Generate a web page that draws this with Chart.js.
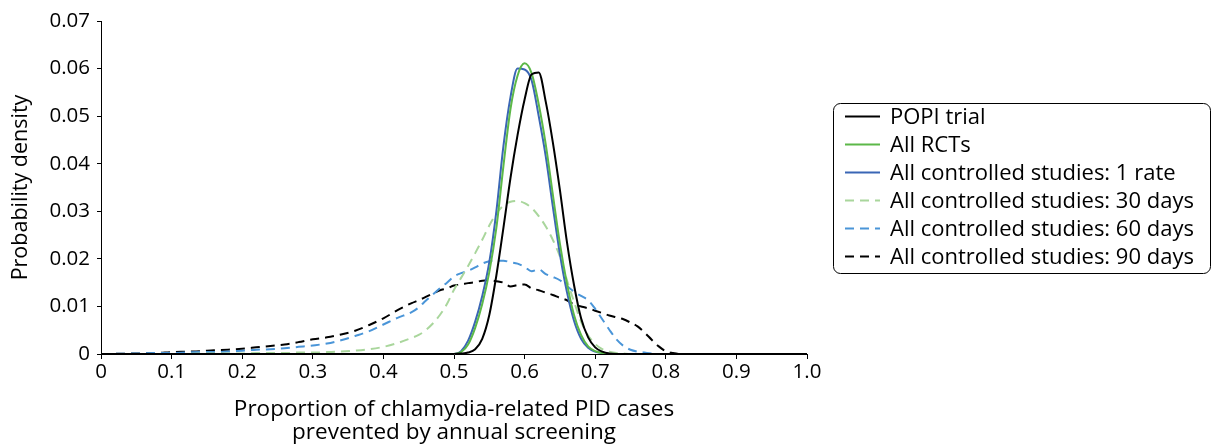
<!DOCTYPE html>
<html>
<head>
<meta charset="utf-8">
<script src="https://cdn.jsdelivr.net/npm/chart.js@4.4.1/dist/chart.umd.min.js"></script>
<style>
  html, body { margin: 0; padding: 0; background: #fff; }
  #wrap { width: 1213px; height: 446px; }
</style>
</head>
<body>
<div id="wrap"><canvas id="pdf" width="1213" height="446"></canvas></div>
<script>
// proportion of PID cases prevented (x) - shared grid for every curve
const xs = [0, 0.05, 0.08, 0.10, 0.12, 0.14, 0.16, 0.18, 0.20, 0.22, 0.24, 0.26, 0.28, 0.30, 0.32, 0.34, 0.36, 0.38, 0.40, 0.42, 0.44,
  0.45, 0.46, 0.47, 0.48, 0.49, 0.50, 0.51, 0.52, 0.53, 0.54, 0.55, 0.56, 0.57, 0.58, 0.59, 0.60, 0.61, 0.62, 0.63, 0.64,
  0.65, 0.66, 0.67, 0.68, 0.69, 0.70, 0.71, 0.72, 0.73, 0.74, 0.75, 0.76, 0.77, 0.78, 0.79, 0.80, 0.81, 0.82, 0.85, 0.90, 0.95, 1.00]

// probability density
const popiTrial = [0, 0, 0, 0, 0, 0, 0, 0, 0, 0, 0, 0, 0, 0, 0, 0, 0, 0, 0, 0, 0,
  0, 0, 0, 0, 0, 0, 0.0001, 0.0003, 0.0010, 0.0032, 0.0082, 0.0165, 0.0265, 0.0370, 0.0460, 0.0535, 0.0588, 0.0592, 0.0530, 0.0445,
  0.0345, 0.0235, 0.0145, 0.0075, 0.0035, 0.0014, 0.0005, 0.0001, 0, 0, 0, 0, 0, 0, 0, 0, 0, 0, 0, 0, 0, 0]

const allRcts = [0, 0, 0, 0, 0, 0, 0, 0, 0, 0, 0, 0, 0, 0, 0, 0, 0, 0, 0, 0, 0,
  0, 0, 0, 0, 0, 0, 0.0004, 0.0020, 0.0055, 0.0105, 0.0172, 0.0265, 0.0395, 0.0515, 0.0585, 0.0611, 0.0590, 0.0525, 0.0440, 0.0335,
  0.0232, 0.0148, 0.0082, 0.0040, 0.0016, 0.0006, 0.0002, 0, 0, 0, 0, 0, 0, 0, 0, 0, 0, 0, 0, 0, 0, 0]

const oneRate = [0, 0, 0, 0, 0, 0, 0, 0, 0, 0, 0, 0, 0, 0, 0, 0, 0, 0, 0, 0, 0,
  0, 0, 0, 0, 0, 0, 0.0006, 0.0028, 0.0068, 0.0122, 0.0193, 0.0300, 0.0437, 0.0540, 0.0600, 0.0598, 0.0575, 0.0500, 0.0415, 0.0310,
  0.0210, 0.0130, 0.0070, 0.0032, 0.0013, 0.0005, 0.0002, 0, 0, 0, 0, 0, 0, 0, 0, 0, 0, 0, 0, 0, 0, 0]

const days30 = [0, 0, 0, 0, 0, 0.0001, 0.0001, 0.0001, 0.0001, 0.0002, 0.0002, 0.0002, 0.0003, 0.0003, 0.0004, 0.0005, 0.0007, 0.0010, 0.0015, 0.0023, 0.0034,
  0.0040, 0.0050, 0.0064, 0.0082, 0.0105, 0.0135, 0.0160, 0.0185, 0.0212, 0.0240, 0.0270, 0.0295, 0.0312, 0.0320, 0.0322, 0.0317, 0.0307, 0.0290, 0.0268, 0.0240,
  0.0205, 0.0155, 0.0110, 0.0068, 0.0039, 0.0021, 0.0010, 0.0005, 0.0002, 0.0001, 0, 0, 0, 0, 0, 0, 0, 0, 0, 0, 0, 0]

const days60 = [0, 0.0001, 0.0002, 0.0002, 0.0003, 0.0004, 0.0004, 0.0005, 0.0007, 0.0009, 0.0010, 0.0012, 0.0015, 0.0018, 0.0022, 0.0029, 0.0038, 0.0048, 0.0062, 0.0076, 0.0088,
  0.0098, 0.0112, 0.0125, 0.0138, 0.0150, 0.0163, 0.0170, 0.0175, 0.0182, 0.0190, 0.0195, 0.0196, 0.0196, 0.0193, 0.0190, 0.0183, 0.0174, 0.0178, 0.0168, 0.0162,
  0.0155, 0.0143, 0.0131, 0.0122, 0.0113, 0.0095, 0.0073, 0.0051, 0.0031, 0.0017, 0.0009, 0.0005, 0.0003, 0.0001, 0, 0, 0, 0, 0, 0, 0, 0]

const days90 = [0, 0.0001, 0.0002, 0.0004, 0.0005, 0.0006, 0.0008, 0.0009, 0.0011, 0.0014, 0.0017, 0.0020, 0.0025, 0.0031, 0.0035, 0.0041, 0.0049, 0.0061, 0.0075, 0.0092, 0.0107,
  0.0113, 0.0120, 0.0127, 0.0134, 0.0138, 0.0144, 0.0146, 0.0149, 0.0151, 0.0154, 0.0155, 0.0153, 0.0150, 0.0142, 0.0145, 0.0146, 0.0138, 0.0134, 0.0129, 0.0124,
  0.0118, 0.0113, 0.0104, 0.0100, 0.0096, 0.0091, 0.0086, 0.0081, 0.0077, 0.0073, 0.0066, 0.0058, 0.0045, 0.0030, 0.0016, 0.0006, 0.0002, 0, 0, 0, 0, 0]

const seriesNames = ['POPI trial', 'All RCTs', 'All controlled studies: 1 rate',
  'All controlled studies: 30 days', 'All controlled studies: 60 days', 'All controlled studies: 90 days']

const xTickLabels = ['0', '0.1', '0.2', '0.3', '0.4', '0.5', '0.6', '0.7', '0.8', '0.9', '1.0']
const yTickLabels = ['0', '0.01', '0.02', '0.03', '0.04', '0.05', '0.06', '0.07']

const FONT = '"Open Sans", "Noto Sans", sans-serif'
const dash = [9, 6]

function toPoints(ys) {
    return xs.map((x, i) => ({ x: x, y: ys[i] }))
}

function line(label, ys, color, dashed) {
    return {
        label: label,
        data: toPoints(ys),
        borderColor: color,
        backgroundColor: color,
        borderWidth: 2,
        borderDash: dashed ? dash : [],
        pointRadius: 0,
        fill: false,
        cubicInterpolationMode: 'monotone'
    }
}

// legend in a rounded box, like the original
const boxLegend = {
    id: 'boxLegend',
    afterDraw(chart) {
        const ctx = chart.ctx
        const left = 833.5, top = 103.5, w = 377, h = 170, r = 7
        ctx.save()
        ctx.beginPath()
        ctx.roundRect(left, top, w, h, r)
        ctx.strokeStyle = '#000'
        ctx.lineWidth = 1
        ctx.stroke()
        ctx.font = '22px ' + FONT
        ctx.textBaseline = 'middle'
        ctx.fillStyle = '#000'
        chart.data.datasets.forEach((ds, i) => {
            const y = 116.5 + i * 28
            ctx.beginPath()
            ctx.setLineDash(ds.borderDash)
            ctx.strokeStyle = ds.borderColor
            ctx.lineWidth = 2
            ctx.moveTo(845, y)
            ctx.lineTo(880, y)
            ctx.stroke()
            ctx.setLineDash([])
            ctx.fillText(ds.label, 890, y + 1)
        })
        ctx.restore()
    }
}

const ctx = document.getElementById('pdf').getContext('2d')

new Chart(ctx, {
    type: 'line',
    data: {
        datasets: [
            line(seriesNames[0], popiTrial, '#000000', false),
            line(seriesNames[1], allRcts, '#5cb848', false),
            line(seriesNames[2], oneRate, '#3a66b5', false),
            line(seriesNames[3], days30, '#a9d69c', true),
            line(seriesNames[4], days60, '#4a95d8', true),
            line(seriesNames[5], days90, '#000000', true)
        ]
    },
    options: {
        responsive: false,
        devicePixelRatio: 1,
        animation: false,
        layout: { padding: { left: 0, right: 406, top: 21, bottom: 0 } },
        plugins: {
            legend: { display: false },
            tooltip: { enabled: false }
        },
        scales: {
            x: {
                type: 'linear',
                min: 0,
                max: 1,
                afterFit: s => { s.height = 92 },
                afterBuildTicks: s => { s.ticks = xTickLabels.map(t => ({ value: parseFloat(t) })) },
                ticks: {
                    color: '#000',
                    font: { family: FONT, size: 20.5 },
                    padding: 1,
                    maxRotation: 0,
                    autoSkip: false,
                    callback: (v, i) => xTickLabels[i]
                },
                grid: { drawOnChartArea: false, drawTicks: true, tickLength: 5, color: '#000' },
                border: { display: true, color: '#000', width: 1 },
                title: {
                    display: true,
                    text: ['Proportion of chlamydia-related PID cases', 'prevented by annual screening'],
                    color: '#000',
                    font: { family: FONT, size: 22.5, lineHeight: 1.03 },
                    padding: { top: 0, bottom: 1.5 }
                }
            },
            y: {
                min: 0,
                max: 0.07,
                afterFit: s => { s.width = 101 },
                afterBuildTicks: s => { s.ticks = yTickLabels.map(t => ({ value: parseFloat(t) })) },
                ticks: {
                    color: '#000',
                    font: { family: FONT, size: 20.5 },
                    padding: 7,
                    autoSkip: false,
                    callback: (v, i) => yTickLabels[i]
                },
                grid: { drawOnChartArea: false, drawTicks: true, tickLength: 4, color: '#000' },
                border: { display: true, color: '#000', width: 1 },
                title: {
                    display: true,
                    text: 'Probability density',
                    color: '#000',
                    font: { family: FONT, size: 21.5, lineHeight: 1.2 },
                    padding: { top: 8, bottom: 0 }
                }
            }
        }
    },
    plugins: [boxLegend]
})
</script>
</body>
</html>
